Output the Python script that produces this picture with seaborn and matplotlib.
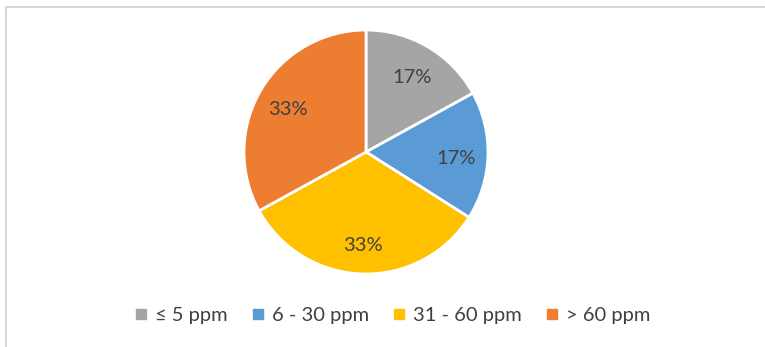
import matplotlib
matplotlib.use("Agg")
import matplotlib.pyplot as plt
from matplotlib.lines import Line2D
import seaborn as sns

# Share of samples per concentration band
categories = ["≤ 5 ppm", "6 - 30 ppm", "31 - 60 ppm", "> 60 ppm"]
shares = [17, 17, 33, 33]
colors = ["#A5A5A5", "#5B9BD5", "#FFC000", "#ED7D31"]

sns.set_theme(style="white")
plt.rcParams["font.family"] = ["Lato", "DejaVu Sans"]

W, H, DPI = 765, 347, 100
fig = plt.figure(figsize=(W / DPI, H / DPI), dpi=DPI)
fig.patch.set_facecolor("white")

palette = sns.color_palette(colors)

# pie centre and radius in pixels
cx, cy, r = 366, 152, 122
ax = fig.add_axes([(cx - r) / W, (H - cy - r) / H, 2 * r / W, 2 * r / H])
wedges, texts, autotexts = ax.pie(
    shares,
    colors=palette,
    startangle=90,
    counterclock=False,
    autopct=lambda p: f"{p:.0f}%",
    pctdistance=0.74,
    wedgeprops=dict(edgecolor="white", linewidth=2),
    textprops=dict(color="#404040", fontsize=14.5),
)
# nudge the percentage labels slightly downward
for t in autotexts:
    x, y = t.get_position()
    t.set_position((x, y - 0.03))
ax.set_xlim(-1, 1)
ax.set_ylim(-1, 1)
ax.set_aspect("equal")

handles = [
    Line2D([0], [0], marker="s", linestyle="none", markersize=6.5,
           markerfacecolor=c, markeredgecolor=c)
    for c in palette
]
fig.legend(
    handles, categories,
    loc="center", bbox_to_anchor=(392 / W, 1 - 315 / H),
    ncol=4, frameon=False, fontsize=14.5, labelcolor="#404040",
    handlelength=0.7, handletextpad=0.35, columnspacing=1.15,
)

# chart-area border along the top and left edges
border = "#D9D9D9"
fig.add_artist(Line2D([6.5 / W, 1], [1 - 6.5 / H, 1 - 6.5 / H],
                      transform=fig.transFigure, color=border, linewidth=1.5))
fig.add_artist(Line2D([6.5 / W, 6.5 / W], [0, 1 - 6.5 / H],
                      transform=fig.transFigure, color=border, linewidth=1.5))

fig.savefig("out.png", dpi=DPI, facecolor="white")
